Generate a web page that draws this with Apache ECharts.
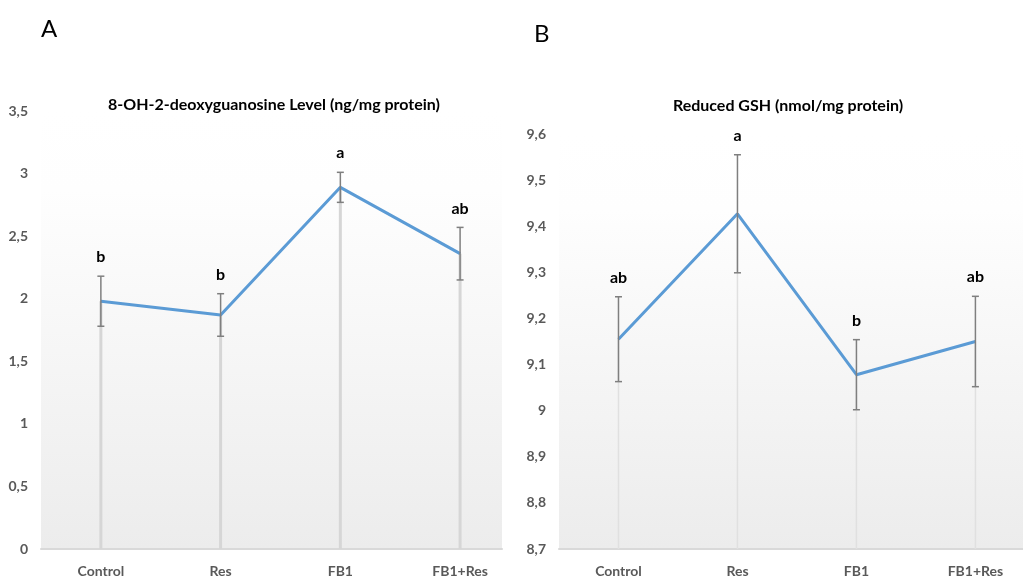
<!DOCTYPE html>
<html>
<head>
<meta charset="utf-8">
<script src="https://cdn.jsdelivr.net/npm/echarts@6/dist/echarts.min.js"></script>
<style>
html,body{margin:0;padding:0;background:#fff;}
#c{width:1023px;height:579px;}
</style>
</head>
<body>
<div id="c"></div>
<script>
// ---- data ----
const categories = ['Control', 'Res', 'FB1', 'FB1+Res'];

const titleA = '8-OH-2-deoxyguanosine Level (ng/mg protein)';
const meanA = [1.98, 1.87, 2.89, 2.36];
const errA = [0.20, 0.17, 0.12, 0.21];
const lettersA = ['b', 'b', 'a', 'ab'];
const yTicksA = { min: 0, max: 3.5, step: 0.5 };

const titleB = 'Reduced GSH (nmol/mg protein)';
const meanB = [9.155, 9.427, 9.078, 9.150];
const errB = [0.092, 0.128, 0.076, 0.098];
const lettersB = ['ab', 'a', 'b', 'ab'];
const yTicksB = { min: 8.7, max: 9.6, step: 0.1 };

// ---- styles ----
const FONT = 'Lato';
const LINE_COLOR = '#5B9BD5';
const LABEL_COLOR = '#595959';

function fmt(v) {
  return String(parseFloat(v.toFixed(1))).replace('.', ',');
}

function gridBg() {
  return new echarts.graphic.LinearGradient(0, 0, 0, 1, [
    { offset: 0, color: '#ffffff' },
    { offset: 0.18, color: '#fefefe' },
    { offset: 1, color: '#ececec' }
  ]);
}

function makeDrop(idx, means, dropColor, dropWidth) {
  return {
    type: 'custom',
    xAxisIndex: idx, yAxisIndex: idx,
    z: 1,
    silent: true,
    data: means.map((m, i) => [i, m]),
    renderItem: function (params, api) {
      const top = api.coord([api.value(0), api.value(1)]);
      const bottom = api.coord([api.value(0), idx === 0 ? yTicksA.min : yTicksB.min]);
      return {
        type: 'line',
        shape: { x1: top[0], y1: top[1], x2: bottom[0], y2: bottom[1] },
        style: { stroke: dropColor, lineWidth: dropWidth }
      };
    }
  };
}

function makeErr(idx, means, errs, letters) {
  return {
    type: 'custom',
    xAxisIndex: idx, yAxisIndex: idx,
    z: 3,
    silent: true,
    data: means.map((m, i) => [i, m, errs[i]]),
    renderItem: function (params, api) {
      const x = api.value(0), m = api.value(1), e = api.value(2);
      const hi = api.coord([x, m + e]);
      const lo = api.coord([x, m - e]);
      const cw = 3.5;
      const st = { stroke: '#7f7f7f', lineWidth: 1.5 };
      return {
        type: 'group',
        children: [
          { type: 'line', shape: { x1: hi[0], y1: hi[1], x2: lo[0], y2: lo[1] }, style: st },
          { type: 'line', shape: { x1: hi[0] - cw, y1: hi[1], x2: hi[0] + cw, y2: hi[1] }, style: st },
          { type: 'line', shape: { x1: lo[0] - cw, y1: lo[1], x2: lo[0] + cw, y2: lo[1] }, style: st },
          {
            type: 'text',
            style: {
              text: letters[params.dataIndex],
              x: hi[0], y: hi[1] - 19,
              align: 'center', verticalAlign: 'middle',
              font: 'bold 16px ' + FONT,
              fill: '#000'
            }
          }
        ]
      };
    }
  };
}

function yAxis(idx, t) {
  return {
    type: 'value', gridIndex: idx,
    min: t.min, max: t.max, interval: t.step,
    axisLine: { show: false }, axisTick: { show: false },
    splitLine: { show: false },
    axisLabel: {
      formatter: fmt, color: LABEL_COLOR, fontFamily: FONT,
      fontWeight: 'bold', fontSize: 14, margin: 13
    }
  };
}

function xAxis(idx, maxV) {
  return {
    type: 'value', gridIndex: idx,
    min: -0.5, max: maxV,
    axisLine: { show: true, lineStyle: { color: '#d9d9d9', width: 2 } },
    axisTick: { show: false },
    splitLine: { show: false },
    axisLabel: {
      customValues: categories.map((c, i) => i),
      formatter: v => categories[Math.round(v)],
      color: LABEL_COLOR, fontFamily: FONT, fontWeight: 'bold',
      fontSize: 14, margin: 15
    }
  };
}

const chart = echarts.init(document.getElementById('c'), null, { renderer: 'canvas' });

chart.setOption({
  animation: false,
  backgroundColor: '#ffffff',
  title: [
    { text: 'A', left: 36, top: 12, textStyle: { fontFamily: FONT, fontWeight: 'normal', fontSize: 24, color: '#000' } },
    { text: 'B', left: 529, top: 17, textStyle: { fontFamily: FONT, fontWeight: 'normal', fontSize: 24, color: '#000' } },
    { text: titleA, left: 269, top: 92, textAlign: 'center', textStyle: { fontFamily: FONT, fontWeight: 'bold', fontSize: 16, color: '#000' } },
    { text: titleB, left: 783, top: 93, textAlign: 'center', textStyle: { fontFamily: FONT, fontWeight: 'bold', fontSize: 16, color: '#000' } }
  ],
  grid: [
    { left: 41, width: 461, top: 111, bottom: 30, show: true, borderWidth: 0, backgroundColor: gridBg() },
    { left: 559, width: 464, top: 134, bottom: 30, show: true, borderWidth: 0, backgroundColor: gridBg() }
  ],
  xAxis: [xAxis(0, 3.35), xAxis(1, 3.4)],
  yAxis: [yAxis(0, yTicksA), yAxis(1, yTicksB)],
  series: [
    makeDrop(0, meanA, '#d6d6d6', 3),
    makeDrop(1, meanB, '#e0e0e0', 1.5),
    {
      type: 'line', xAxisIndex: 0, yAxisIndex: 0, z: 2,
      data: meanA.map((m, i) => [i, m]),
      showSymbol: false, symbol: 'none',
      lineStyle: { color: LINE_COLOR, width: 3 }
    },
    {
      type: 'line', xAxisIndex: 1, yAxisIndex: 1, z: 2,
      data: meanB.map((m, i) => [i, m]),
      showSymbol: false, symbol: 'none',
      lineStyle: { color: LINE_COLOR, width: 3 }
    },
    makeErr(0, meanA, errA, lettersA),
    makeErr(1, meanB, errB, lettersB)
  ]
});
</script>
</body>
</html>
